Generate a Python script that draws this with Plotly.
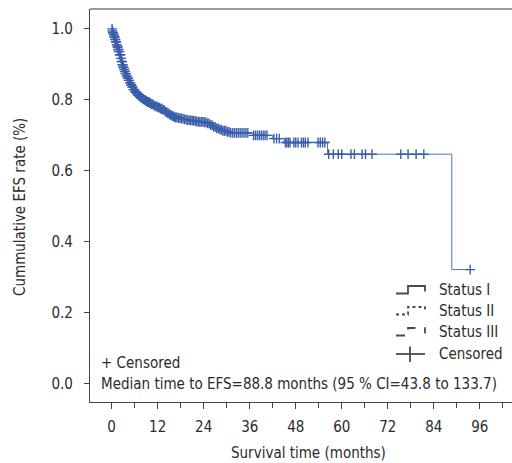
import numpy as np
import plotly.graph_objects as go

# Kaplan-Meier step curve (event times in months, survival probability)
surv_time = [0, 0.15, 0.3, 0.5, 0.7, 0.9, 1.1, 1.3, 1.5, 1.7, 1.9, 2.1, 2.35, 2.55, 2.77,
             3.0, 3.2, 3.4, 3.6, 3.85, 4.07, 4.35, 4.65, 4.96, 5.3, 5.65, 6.0, 6.4, 6.8,
             7.2, 7.6, 8.0, 8.4, 8.9, 9.3, 9.8, 10.3, 10.9, 11.5, 12.0, 12.6, 13.2, 13.8,
             14.4, 15.0, 15.7, 16.4, 17.2, 18.0, 18.8, 19.6, 20.5, 21.3, 22.2, 23.0,
             24.0, 25.0, 25.8, 26.5, 27.3, 28.2, 29.0, 29.9, 30.8, 36.9, 42.0, 45.0,
             56.3, 88.7]
surv_prob = [1.000, 0.994, 0.989, 0.983, 0.977, 0.970, 0.963, 0.955, 0.949, 0.942, 0.936,
             0.927, 0.917, 0.908, 0.899, 0.892, 0.886, 0.880, 0.874, 0.867, 0.861, 0.855,
             0.848, 0.842, 0.836, 0.829, 0.823, 0.818, 0.813, 0.809, 0.806, 0.803, 0.800,
             0.797, 0.794, 0.791, 0.788, 0.784, 0.781, 0.778, 0.775, 0.772, 0.766, 0.762,
             0.758, 0.754, 0.751, 0.749, 0.747, 0.745, 0.743, 0.742, 0.741, 0.739, 0.738,
             0.737, 0.734, 0.729, 0.724, 0.720, 0.716, 0.713, 0.710, 0.707, 0.700, 0.691,
             0.680, 0.647, 0.322]
last_time = 93.5

# Censored observation times
censor_time = [0.1, 0.2, 0.3, 0.4, 0.5, 0.6, 0.7, 0.8, 0.9, 1.0, 1.1, 1.2, 1.3, 1.4, 1.5,
               1.6, 1.7, 1.8, 1.9, 2.0, 2.1, 2.2, 2.3, 2.4, 2.5, 2.6, 2.7, 2.8, 2.9, 3.0,
               3.1, 3.2, 3.3, 3.4, 3.5, 3.6, 3.7, 3.8, 3.9, 4.0, 4.15, 4.3, 4.45, 4.6,
               4.75, 4.9, 5.05, 5.2, 5.35, 5.5, 5.65, 5.8, 5.95, 6.1, 6.3, 6.5, 6.7, 6.9,
               7.1, 7.3, 7.5, 7.7, 7.9, 8.1, 8.3, 8.5, 8.7, 8.9, 9.1, 9.3, 9.5, 9.7, 9.9,
               10.1, 10.4, 10.7, 11.0, 11.3, 11.6, 11.9, 12.2, 12.5, 12.8, 13.1, 13.4,
               13.7, 14.0, 14.3, 14.6, 14.9, 15.2, 15.5, 15.8, 16.1, 16.4, 16.7, 17.0,
               17.4, 17.8, 18.2, 18.6, 19.0, 19.4, 19.8, 20.2, 20.6, 21.0, 21.4, 21.8,
               22.2, 22.6, 23.0, 23.4, 23.8, 24.2, 24.6, 25.0, 25.4, 25.8, 26.2, 26.6,
               27.0, 27.4, 27.8, 28.2, 28.6, 29.0, 29.4, 29.8, 30.2, 30.6, 31.0, 31.5,
               32.0, 32.5, 33.0, 33.5, 34.0, 34.5, 35.0, 35.5, 37.0, 37.5, 38.0, 38.5,
               39.0, 39.5, 40.0, 40.5, 42.3, 43.0, 43.7, 45.3, 45.7, 46.1, 46.5, 47.5,
               48.0, 48.6, 49.5, 50.0, 50.5, 51.2, 53.8, 54.4, 55.0, 55.6, 56.6, 57.8,
               59.1, 60.0, 62.4, 63.3, 65.3, 66.2, 67.9, 75.4, 77.3, 79.4, 81.4, 93.5]

x_ticks = [0, 12, 24, 36, 48, 60, 72, 84, 96]
y_ticks = [0.0, 0.2, 0.4, 0.6, 0.8, 1.0]
legend_labels = ["Status I", "Status II", "Status III", "Censored"]
note_censored = "+ Censored"
note_median = "Median time to EFS=88.8 months (95 % CI=43.8 to 133.7)"
x_title = "Survival time (months)"
y_title = "Cummulative EFS rate (%)"

FONT = "DejaVu Sans Condensed, Liberation Sans Narrow, sans-serif"
FS = 15
TXT = "#2b2b2b"
BLUE_LINE = "#4d72c2"
BLUE_MARK = "#3b5eab"

W, H = 512, 463
ML, MR, MT, MB = 90, 0, 9, 61
PW, PH = W - ML - MR, H - MT - MB


def px(x):
    return (x - ML) / PW


def py(y):
    return (H - MB - y) / PH


# step curve extended to the last follow-up
line_x = list(surv_time) + [last_time]
line_y = list(surv_prob) + [surv_prob[-1]]

st = np.array(surv_time)
sp = np.array(surv_prob)
cens_y = [float(sp[np.searchsorted(st, t, side="right") - 1]) for t in censor_time]

fig = go.Figure()
fig.add_trace(go.Scatter(x=line_x, y=line_y, mode="lines", line_shape="hv",
                         line=dict(color=BLUE_LINE, width=1), hoverinfo="skip"))
fig.add_trace(go.Scatter(x=censor_time, y=cens_y, mode="markers",
                         marker=dict(symbol="cross-thin", size=7,
                                     line=dict(color=BLUE_MARK, width=1.4)),
                         hoverinfo="skip"))

shapes = []
# top border
shapes.append(dict(type="line", xref="paper", yref="paper", x0=0, x1=1, y0=1, y1=1,
                   line=dict(color="#9a9a9a", width=2)))

# legend glyphs (decorative)
legend_y = [290, 311, 332, 354]
dashes = ["solid", "dot", "dash"]
for i in range(3):
    yc = legend_y[i]
    path = "M {:.4f} {:.4f} L {:.4f} {:.4f} L {:.4f} {:.4f} L {:.4f} {:.4f} L {:.4f} {:.4f}".format(
        px(396), py(yc + 3.5), px(408), py(yc + 3.5), px(408), py(yc - 4),
        px(425), py(yc - 4), px(425), py(yc + 1.5))
    shapes.append(dict(type="path", xref="paper", yref="paper", path=path,
                       line=dict(color="#4a4a4a", width=1.8, dash=dashes[i])))
yc = legend_y[3]
shapes.append(dict(type="line", xref="paper", yref="paper", x0=px(396), x1=px(425),
                   y0=py(yc), y1=py(yc), line=dict(color="#4a4a4a", width=1.8)))
shapes.append(dict(type="line", xref="paper", yref="paper", x0=px(410), x1=px(410),
                   y0=py(yc - 7.5), y1=py(yc + 8), line=dict(color="#4a4a4a", width=1.8)))

annotations = []
for lab, yc in zip(legend_labels, legend_y):
    annotations.append(dict(text=lab, xref="paper", yref="paper", x=px(437), y=py(yc),
                            xanchor="left", yanchor="middle", showarrow=False,
                            font=dict(family=FONT, size=FS, color=TXT)))
annotations.append(dict(text=note_censored, xref="paper", yref="paper", x=px(99),
                        y=py(362.5), xanchor="left", yanchor="middle", showarrow=False,
                        font=dict(family=FONT, size=FS, color=TXT)))
annotations.append(dict(text=note_median, xref="paper", yref="paper", x=px(99),
                        y=py(383.5), xanchor="left", yanchor="middle", showarrow=False,
                        font=dict(family=FONT, size=FS, color=TXT)))
annotations.append(dict(text=x_title, xref="paper", yref="paper", x=px(308),
                        y=py(453), xanchor="center", yanchor="middle", showarrow=False,
                        font=dict(family=FONT, size=FS, color=TXT)))
annotations.append(dict(text=y_title, xref="paper", yref="paper", x=px(20),
                        y=py(207), xanchor="center", yanchor="middle", showarrow=False,
                        textangle=-90, font=dict(family=FONT, size=FS, color=TXT)))

fig.update_layout(
    width=W, height=H, margin=dict(l=ML, r=MR, t=MT, b=MB, pad=0),
    paper_bgcolor="white", plot_bgcolor="white", showlegend=False,
    shapes=shapes, annotations=annotations,
    font=dict(family=FONT, size=FS, color=TXT),
)
fig.update_xaxes(range=[-5.65, 104.4], tickvals=x_ticks, ticktext=[str(v) for v in x_ticks],
                 showgrid=False, zeroline=False, showline=True, linecolor="#444444",
                 linewidth=1.3, ticks="outside", ticklen=6, tickcolor="#444444",
                 tickwidth=1.2, ticklabelstandoff=5,
                 minor=dict(tickvals=[6, 18, 30, 42, 54, 66, 78, 90, 102], ticks="outside",
                            ticklen=5, tickcolor="#444444", tickwidth=1.2, showgrid=False),
                 tickfont=dict(family=FONT, size=FS, color=TXT))
fig.update_yaxes(range=[-0.051, 1.056], tickvals=y_ticks,
                 ticktext=["{:.1f}".format(v) for v in y_ticks],
                 showgrid=False, zeroline=False, showline=True, linecolor="#444444",
                 linewidth=1.3, ticks="outside", ticklen=5, tickcolor="#444444",
                 tickwidth=1.2, ticklabelstandoff=8,
                 tickfont=dict(family=FONT, size=FS, color=TXT))

fig.write_html("out.html")
